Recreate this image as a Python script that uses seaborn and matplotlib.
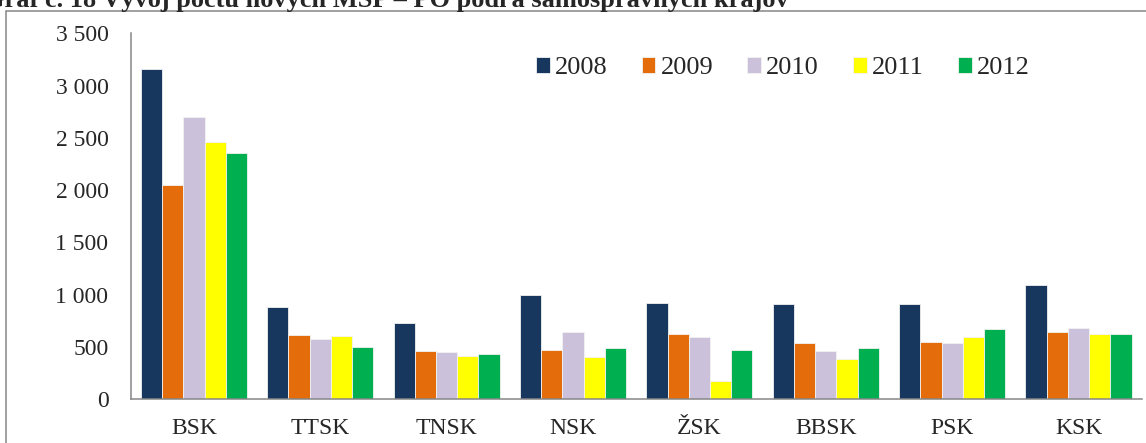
import pandas as pd
import matplotlib.pyplot as plt
import matplotlib.ticker as mticker
from matplotlib.patches import Rectangle
import seaborn as sns

# data (new SMEs - legal persons per region)
regions = ['BSK', 'TTSK', 'TNSK', 'NSK', 'ŽSK', 'BBSK', 'PSK', 'KSK']
years = ['2008', '2009', '2010', '2011', '2012']
v2008 = [3160, 880, 725, 1000, 915, 905, 908, 1088]
v2009 = [2045, 610, 456, 465, 620, 540, 546, 638]
v2010 = [2695, 575, 451, 642, 594, 462, 540, 683]
v2011 = [2460, 603, 410, 404, 175, 380, 590, 618]
v2012 = [2352, 494, 426, 490, 467, 486, 667, 626]
colors = ['#17375E', '#E46C0A', '#CCC1DA', '#FFFF00', '#00B050']
title = 'Graf č. 18 Vývoj počtu nových MSP – PO podľa samosprávnych krajov'

series = dict(zip(years, [v2008, v2009, v2010, v2011, v2012]))
rows = []
for yr, vals in series.items():
    for reg, v in zip(regions, vals):
        rows.append({'kraj': reg, 'rok': yr, 'pocet': v})
df = pd.DataFrame(rows)

sns.set_style('white')
plt.rcParams['font.family'] = ['Liberation Serif', 'DejaVu Serif']

W, H = 1146, 443
fig = plt.figure(figsize=(W / 100, H / 100), dpi=100)
ax = fig.add_axes([130.7 / W, 1 - 399 / H, (1141.7 - 130.7) / W, (399 - 33.3) / H])

sns.barplot(data=df, x='kraj', y='pocet', hue='rok', palette=colors,
            width=0.84, saturation=1, edgecolor='#F2F2F2', linewidth=0.6, ax=ax)

grey = '#868686'
ax.set_ylim(0, 3500)
ax.set_xlim(-0.5, len(regions) - 0.5)
ax.yaxis.set_major_locator(mticker.MultipleLocator(500))
ax.yaxis.set_major_formatter(mticker.FuncFormatter(lambda v, p: f"{int(v):,}".replace(',', ' ')))
ax.set_xticks(range(len(regions)))
ax.set_xticklabels(regions)
ax.set_xticks([i - 0.5 for i in range(len(regions) + 1)], minor=True)
ax.tick_params(axis='x', which='major', length=0, labelsize=17, pad=14)
ax.tick_params(axis='x', which='minor', length=6, width=1.1, color=grey, direction='out')
ax.tick_params(axis='y', length=6, width=1.1, color=grey, direction='out', labelsize=17, pad=10)
ax.set_xlabel('')
ax.set_ylabel('')
for s in ['top', 'right']:
    ax.spines[s].set_visible(False)
for s in ['left', 'bottom']:
    ax.spines[s].set_color(grey)
    ax.spines[s].set_linewidth(1.1)

handles, labels = ax.get_legend_handles_labels()
ax.legend(handles, labels, ncol=5, frameon=False, loc='center',
          bbox_to_anchor=(0.645, 0.905), fontsize=19,
          handlelength=0.53, handleheight=0.53, handletextpad=0.19,
          columnspacing=1.29)

# outer chart border (cut off at right and bottom)
fig.patches.append(Rectangle((6 / W, -0.1), 1.2, 1.1 - 11 / H, transform=fig.transFigure,
                             fill=False, edgecolor=grey, linewidth=1.1))

# title, mostly cropped away at the top (as in the source image)
fig.text(-16 / W, 1 - 7.5 / H, title, fontsize=19, fontweight='bold', va='baseline')

fig.savefig('out.png', dpi=100)
